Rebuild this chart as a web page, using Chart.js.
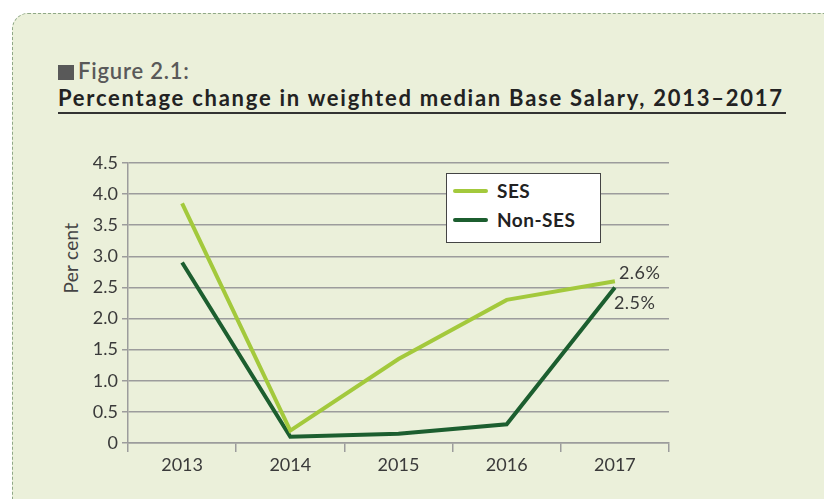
<!DOCTYPE html>
<html>
<head>
<meta charset="utf-8">
<script src="https://cdn.jsdelivr.net/npm/chart.js@4.4.0/dist/chart.umd.min.js"></script>
<style>
  html, body { margin: 0; padding: 0; background: #fff; }
  #page { position: relative; width: 824px; height: 499px; overflow: hidden; font-family: Lato, "Open Sans", sans-serif; }
  #panel {
    position: absolute; left: 12px; top: 13px; width: 840px; height: 520px;
    background: #ebf0da; border: 1.5px dashed #8fa886; border-radius: 16px;
  }
  #fig { position: absolute; left: 58px; top: 57px; font-size: 22px; font-weight: 600; color: #595959; white-space: nowrap; letter-spacing: 0.8px; }
  #fig .sq { display: inline-block; width: 16px; height: 15px; background: #595959; margin-right: 4px; vertical-align: -1px; }
  #title { position: absolute; left: 58px; top: 84px; font-size: 22px; font-weight: 700; color: #222; white-space: nowrap; }
  #rule { position: absolute; left: 58px; top: 112px; width: 728px; height: 2px; background: #333; }
  #ytitle { position: absolute; left: 70px; top: 258px; transform: translate(-50%, -50%) rotate(-90deg); font-size: 19px; color: #444; white-space: nowrap; letter-spacing: 0.3px; }
  #legend {
    position: absolute; left: 446px; top: 173px; width: 153px; height: 68px;
    background: #fff; border: 1.5px solid #444;
  }
  .item { position: absolute; left: 6px; font-size: 19px; font-weight: 700; color: #222; letter-spacing: 0.5px; }
  .item .sw { display: inline-block; width: 35px; height: 4px; border-radius: 2px; margin-right: 9px; vertical-align: 5px; }
  canvas { position: absolute; left: 0; top: 0; }
</style>
</head>
<body>
<div id="page">
  <div id="panel"></div>
  <div id="fig"><span class="sq"></span>Figure 2.1:</div>
  <div id="title">Percentage change in weighted median Base Salary, 2013–2017</div>
  <div id="rule"></div>
  <div id="ytitle">Per cent</div>
  <canvas id="chart" width="824" height="499"></canvas>
  <div id="legend"></div>
</div>
<script>
const years = ["2013", "2014", "2015", "2016", "2017"]
const sesValues = [3.85, 0.2, 1.35, 2.3, 2.6]
const nonSesValues = [2.9, 0.1, 0.15, 0.3, 2.5]
const endLabels = ["2.6%", "2.5%"]
const seriesNames = ["SES", "Non-SES"]
const seriesColors = ["#a3c93c", "#1c5e2f"]

// stretch the title so it spans the rule, like the original
const title = document.getElementById("title")
const chars = title.textContent.length
title.style.letterSpacing = ((726 - title.offsetWidth) / chars) + "px"

// legend box (html)
const legend = document.getElementById("legend")
seriesNames.forEach((name, i) => {
  const el = document.createElement("div")
  el.className = "item"
  el.style.top = (i === 0 ? 5 : 34) + "px"
  el.innerHTML = `<span class="sw" style="background:${seriesColors[i]}"></span>${name}`
  legend.appendChild(el)
})

// value labels next to the 2017 points
const endLabelPlugin = {
  id: "endLabels",
  afterDatasetsDraw(chart) {
    const ctx = chart.ctx
    ctx.save()
    ctx.font = "18px Lato"
    ctx.letterSpacing = "0.5px"
    ctx.fillStyle = "#3a3a3a"
    ctx.textAlign = "left"
    ctx.textBaseline = "middle"
    const p0 = chart.getDatasetMeta(0).data[4]
    const p1 = chart.getDatasetMeta(1).data[4]
    ctx.fillText(endLabels[0], p0.x + 4, p0.y - 8)
    ctx.fillText(endLabels[1], p1.x - 1, p1.y + 16)
    ctx.restore()
  }
}

const gridColor = "#9c9c9c"
const tickFont = { family: "Lato", size: 18 }
new Chart(document.getElementById("chart"), {
  type: "line",
  data: {
    labels: years,
    datasets: [
      { label: seriesNames[0], data: sesValues, borderColor: seriesColors[0], borderWidth: 4, pointRadius: 0, tension: 0 },
      { label: seriesNames[1], data: nonSesValues, borderColor: seriesColors[1], borderWidth: 4, pointRadius: 0, tension: 0 }
    ]
  },
  options: {
    responsive: false,
    animation: false,
    layout: { padding: { top: 163, right: 155, left: 0, bottom: 0 } },
    plugins: { legend: { display: false }, tooltip: { enabled: false } },
    scales: {
      x: {
        offset: true,
        grid: { offset: true, drawOnChartArea: false, drawTicks: true, tickLength: 9, color: gridColor, lineWidth: 1.5 },
        border: { color: gridColor, width: 1.5 },
        ticks: { color: "#3a3a3a", font: tickFont, padding: 2 },
        afterFit(scale) { scale.height = 56 }
      },
      y: {
        min: 0, max: 4.5,
        grid: { color: gridColor, lineWidth: 1.5, tickLength: 6 },
        border: { color: gridColor, width: 1.5 },
        ticks: {
          stepSize: 0.5, color: "#3a3a3a", font: tickFont, padding: 4,
          callback: v => v === 0 ? "0" : v.toFixed(1)
        },
        afterFit(scale) { scale.width = 128 }
      }
    }
  },
  plugins: [endLabelPlugin]
})
</script>
</body>
</html>
